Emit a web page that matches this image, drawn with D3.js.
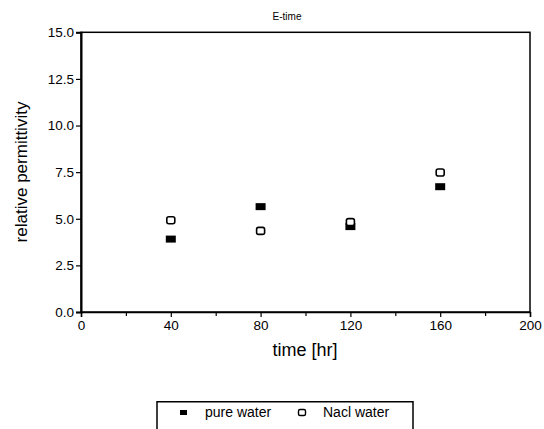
<!DOCTYPE html>
<html><head><meta charset="utf-8">
<script src="https://cdn.jsdelivr.net/npm/d3@7"></script>
<style>body{margin:0;background:#fff}svg{display:block}text{font-family:"Liberation Sans",Arial,sans-serif;fill:#000}</style>
</head><body>
<script>
const times = [40, 80, 120, 160];
const pureWater = [3.91, 5.65, 4.58, 6.72];
const naclWater = [4.92, 4.35, 4.82, 7.48];
const xTicks = [0, 40, 80, 120, 160, 200];
const xMinorTicks = [20, 60, 100, 140, 180];
const yTicks = [0, 2.5, 5, 7.5, 10, 12.5, 15];
const seriesNames = ["pure water", "Nacl water"];

const W = 544, H = 429;
const svg = d3.select("body").append("svg").attr("width", W).attr("height", H);
const m = {l: 81, r: 530, t: 32.3, b: 312};
const x = d3.scaleLinear().domain([0, 200]).range([m.l, m.r]);
const y = d3.scaleLinear().domain([0, 15]).range([m.b, m.t]);

// title
svg.append("text").attr("x", 287).attr("y", 20).attr("text-anchor", "middle")
  .style("font-size", "10px").text("E-time");

// box
svg.append("rect").attr("x", m.l).attr("y", m.t).attr("width", m.r - m.l).attr("height", m.b - m.t)
  .attr("fill", "none").attr("stroke", "#000").attr("stroke-width", 1.5);

// x axis
const xAxis = svg.append("g").attr("transform", `translate(0,${m.b})`)
  .call(d3.axisBottom(x).tickValues(xTicks).tickFormat(d3.format("d")).tickSize(5).tickPadding(3));
svg.append("g").attr("transform", `translate(0,${m.b})`)
  .call(d3.axisBottom(x).tickValues(xMinorTicks).tickFormat("").tickSize(4))
  .select(".domain").remove();
// y axis
const yAxis = svg.append("g").attr("transform", `translate(${m.l},0)`)
  .call(d3.axisLeft(y).tickValues(yTicks).tickFormat(d3.format(".1f")).tickSize(5).tickPadding(2));
svg.selectAll(".domain").attr("stroke-width", 1.5);
yAxis.select(".domain").attr("stroke-width", 2);
svg.selectAll(".tick line").attr("stroke-width", 1.2);
svg.selectAll(".tick text").style("font-size", "13.5px").style("font-family", '"Liberation Sans",Arial,sans-serif');

// axis labels
svg.append("text").attr("x", 305).attr("y", 356).attr("text-anchor", "middle")
  .style("font-size", "18px").text("time [hr]");
svg.append("text").attr("transform", `translate(27,172) rotate(-90)`).attr("text-anchor", "middle")
  .style("font-size", "17px").text("relative permittivity");

// markers
svg.append("g").selectAll("rect").data(times).join("rect")
  .attr("x", (d) => x(d) - 5).attr("y", (d, i) => y(pureWater[i]) - 3.5)
  .attr("width", 10).attr("height", 7).attr("fill", "#000");
svg.append("g").selectAll("rect").data(times).join("rect")
  .attr("x", (d) => x(d) - 4).attr("y", (d, i) => y(naclWater[i]) - 3.5)
  .attr("width", 8).attr("height", 7).attr("rx", 2)
  .attr("fill", "#fff").attr("stroke", "#000").attr("stroke-width", 1.6);

// legend
svg.append("path").attr("d", `M157,432V401.7H413V432`).attr("fill", "none").attr("stroke", "#000").attr("stroke-width", 1.5);
svg.append("rect").attr("x", 180).attr("y", 410).attr("width", 7).attr("height", 5).attr("fill", "#000");
svg.append("text").attr("x", 205).attr("y", 417).style("font-size", "14px").text(seriesNames[0]);
svg.append("rect").attr("x", 298.5).attr("y", 409.5).attr("width", 7).attr("height", 6).attr("rx", 1.5)
  .attr("fill", "#fff").attr("stroke", "#000").attr("stroke-width", 1.4);
svg.append("text").attr("x", 323).attr("y", 417).style("font-size", "14px").text(seriesNames[1]);
</script>
</body></html>
